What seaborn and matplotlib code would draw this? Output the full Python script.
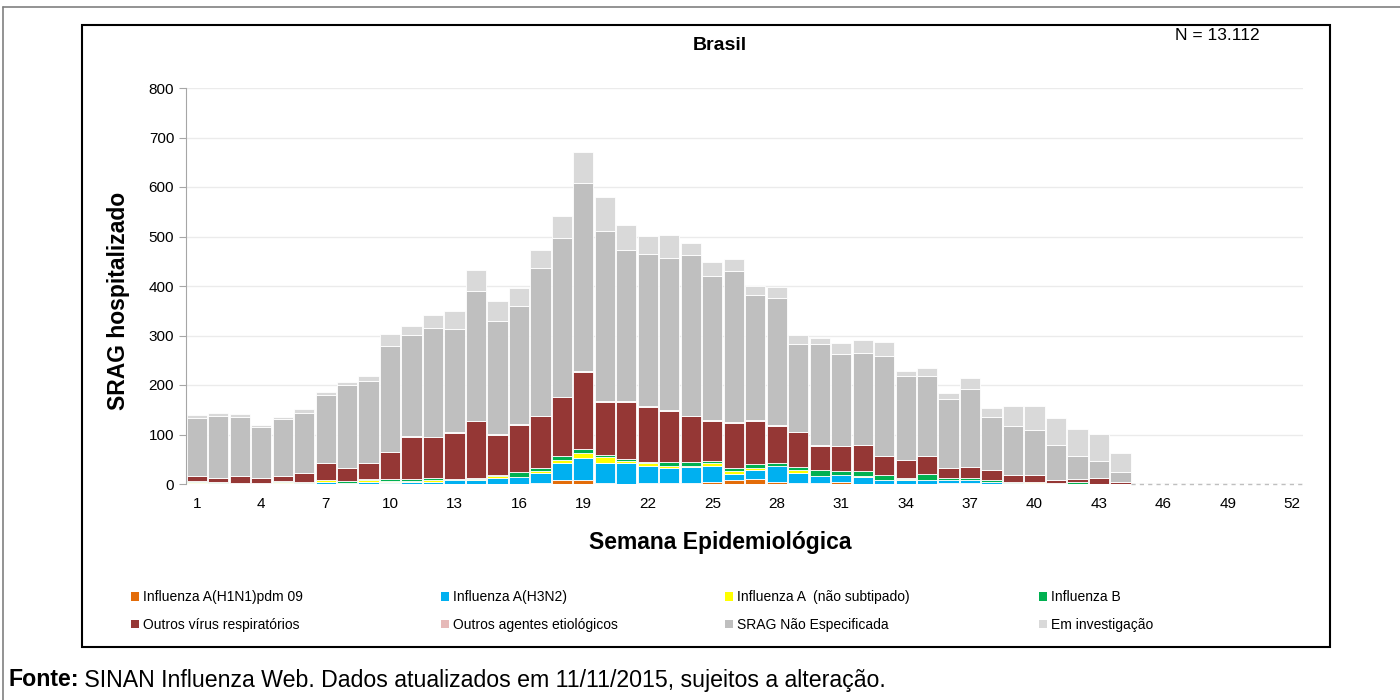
import numpy as np
import seaborn as sns
import matplotlib.pyplot as plt
from matplotlib.patches import Rectangle, Patch
from matplotlib.lines import Line2D

# -----------------------------
# Dados (casos de SRAG por semana epidemiológica, Brasil 2015)
# -----------------------------
weeks = list(range(1, 53))
pad = [0] * 8  # semanas 45-52 sem registros

h1n1 = [0, 0, 1, 0, 0, 0, 0, 0, 0, 2,
        0, 0, 0, 0, 0, 0, 2, 8, 8, 3,
        1, 3, 3, 3, 5, 9, 10, 5, 3, 3,
        5, 1, 1, 1, 1, 2, 3, 0, 0, 0,
        1, 0, 0, 0] + pad
h3n2 = [3, 1, 1, 2, 3, 3, 5, 3, 5, 2,
        5, 5, 8, 8, 13, 14, 20, 34, 45, 39,
        41, 34, 29, 31, 31, 12, 18, 31, 20, 14,
        14, 14, 7, 7, 8, 6, 5, 5, 2, 3,
        0, 0, 0, 0] + pad
flu_a = [1, 2, 0, 0, 2, 0, 3, 0, 3, 3,
         2, 4, 0, 3, 4, 0, 5, 7, 10, 12,
         5, 5, 4, 3, 7, 6, 5, 1, 5, 0,
         0, 2, 0, 2, 0, 0, 0, 0, 0, 2,
         2, 1, 0, 0] + pad
flu_b = [3, 1, 1, 0, 2, 2, 1, 3, 3, 3,
         3, 3, 3, 2, 1, 10, 5, 7, 7, 5,
         3, 3, 9, 7, 4, 5, 7, 6, 7, 12,
         8, 9, 10, 3, 12, 4, 4, 3, 3, 0,
         0, 3, 0, 0] + pad
outros_virus = [10, 8, 14, 10, 10, 17, 33, 26, 31, 55,
                85, 82, 93, 114, 82, 96, 105, 119, 156, 106,
                115, 111, 103, 93, 81, 92, 88, 75, 70, 48,
                50, 52, 38, 35, 36, 20, 23, 21, 14, 14,
                6, 7, 12, 5] + pad
outros_agentes = [0, 0, 0, 0, 0, 0, 0, 0, 0, 0,
                  2, 1, 2, 1, 1, 1, 1, 1, 2, 2,
                  2, 1, 1, 1, 1, 1, 1, 1, 1, 1,
                  0, 0, 0, 0, 0, 0, 0, 0, 0, 0,
                  0, 0, 0, 0] + pad
srag_ne = [117, 125, 119, 104, 114, 122, 138, 169, 167, 214,
           205, 221, 207, 262, 228, 239, 299, 321, 380, 344,
           306, 308, 308, 325, 291, 305, 253, 257, 176, 205,
           186, 187, 202, 171, 162, 139, 157, 107, 99, 91,
           69, 46, 35, 19] + pad
em_investigacao = [5, 6, 5, 3, 4, 7, 5, 6, 9, 24,
                   17, 25, 36, 42, 41, 36, 36, 44, 63, 69,
                   50, 35, 46, 23, 28, 25, 19, 21, 18, 12,
                   22, 25, 28, 9, 15, 12, 23, 18, 39, 47,
                   55, 54, 53, 39] + pad

labels = ['Influenza A(H1N1)pdm 09', 'Influenza A(H3N2)',
          'Influenza A  (não subtipado)', 'Influenza B',
          'Outros vírus respiratórios', 'Outros agentes etiológicos',
          'SRAG Não Especificada', 'Em investigação']
series = [h1n1, h3n2, flu_a, flu_b, outros_virus, outros_agentes, srag_ne, em_investigacao]
colors = ['#E36C09', '#00B0F0', '#FFFF00', '#00B050',
          '#953735', '#E6B9B8', '#BFBFBF', '#D9D9D9']

# -----------------------------
# Figura
# -----------------------------
sns.set_style('white')
plt.rcParams['font.family'] = ['Liberation Sans', 'DejaVu Sans']
plt.rcParams['text.color'] = 'black'
plt.rcParams['axes.labelcolor'] = 'black'
plt.rcParams['xtick.labelcolor'] = 'black'
plt.rcParams['ytick.labelcolor'] = 'black'

fig = plt.figure(figsize=(14, 7), dpi=100)
ax = fig.add_axes([186 / 1400, 1 - 484 / 700, (1303 - 186) / 1400, (484 - 88) / 700])

base = np.zeros(len(weeks))
for vals, col in zip(series, colors):
    sns.barplot(x=weeks, y=vals, bottom=base, color=col, width=0.94,
                edgecolor='white', linewidth=0.6, saturation=1,
                errorbar=None, ax=ax, zorder=2)
    base = base + np.array(vals)

ax.set_xlim(-0.5, len(weeks) - 0.5)
ax.set_ylim(0, 800)
ax.set_yticks(range(0, 801, 100))
ax.yaxis.grid(True, color='#EBEBEB', linewidth=1)
ax.set_axisbelow(True)

# eixo x: rótulos a cada 3 semanas, marcas a cada 5
ax.set_xticks(range(0, len(weeks), 3))
ax.set_xticklabels([str(w) for w in weeks[::3]])
ax.set_xticks(np.arange(-0.5, len(weeks), 5), minor=True)
ax.tick_params(axis='x', which='major', length=0, labelsize=11, pad=9)
ax.tick_params(axis='x', which='minor', length=4, color='#BFBFBF', direction='out')
ax.tick_params(axis='y', length=5, color='#A6A6A6', labelsize=11, left=True)

for s in ['top', 'right', 'bottom']:
    ax.spines[s].set_visible(False)
ax.spines['left'].set_color('#A6A6A6')

# linha tracejada do eixo nas semanas sem dados
last = max(i for i, t in enumerate(base) if t > 0)
ax.plot([last + 0.5, len(weeks) - 0.5], [0, 0], color='#BFBFBF',
        linestyle=(0, (3, 3)), linewidth=1, zorder=3, clip_on=False)

ax.set_xlabel('')
ax.set_ylabel('')
fig.text(118 / 1400, 1 - 301 / 700, 'SRAG hospitalizado', rotation=90, ha='center', va='center',
         fontsize=16.5, fontweight='bold')
fig.text(720 / 1400, 1 - 543 / 700, 'Semana Epidemiológica', ha='center', va='center',
         fontsize=16.5, fontweight='bold')

fig.text(720 / 1400, 1 - 45 / 700, 'Brasil', ha='center', va='center',
         fontsize=14, fontweight='bold')
fig.text(1217 / 1400, 1 - 35 / 700, 'N = 13.112', ha='center', va='center', fontsize=12.5)

# legenda: 4 colunas, 2 linhas
handles = [Patch(facecolor=c, edgecolor='none') for c in colors]
col_x = [131, 441, 725, 1039]
for j, x in enumerate(col_x):
    fig.legend([handles[j], handles[j + 4]], [labels[j], labels[j + 4]],
               loc='upper left', bbox_to_anchor=(x / 1400, 1 - 590 / 700),
               frameon=False, fontsize=10, handlelength=0.6, handleheight=0.6,
               handletextpad=0.25, labelspacing=1.0, borderpad=0, borderaxespad=0)

# molduras
fig.add_artist(Rectangle((82 / 1400, 1 - 647 / 700), (1330 - 82) / 1400, (647 - 24.5) / 700,
                         transform=fig.transFigure, fill=False, edgecolor='black', linewidth=1.5))
fig.add_artist(Line2D([2.5 / 1400, 1], [1 - 7 / 700, 1 - 7 / 700],
                      transform=fig.transFigure, color='#808080', linewidth=1.2))
fig.add_artist(Line2D([2.5 / 1400, 2.5 / 1400], [0, 1 - 7 / 700],
                      transform=fig.transFigure, color='#808080', linewidth=1.2))

# fonte
t = fig.text(8 / 1400, 1 - 680 / 700, 'Fonte:', fontsize=16.7, fontweight='bold', va='center')
ax.annotate(' SINAN Influenza Web. Dados atualizados em 11/11/2015, sujeitos a alteração.',
            xy=(1, 0.5), xycoords=t, va='center', ha='left', fontsize=16.7,
            annotation_clip=False)

fig.savefig('out.png', dpi=100)
